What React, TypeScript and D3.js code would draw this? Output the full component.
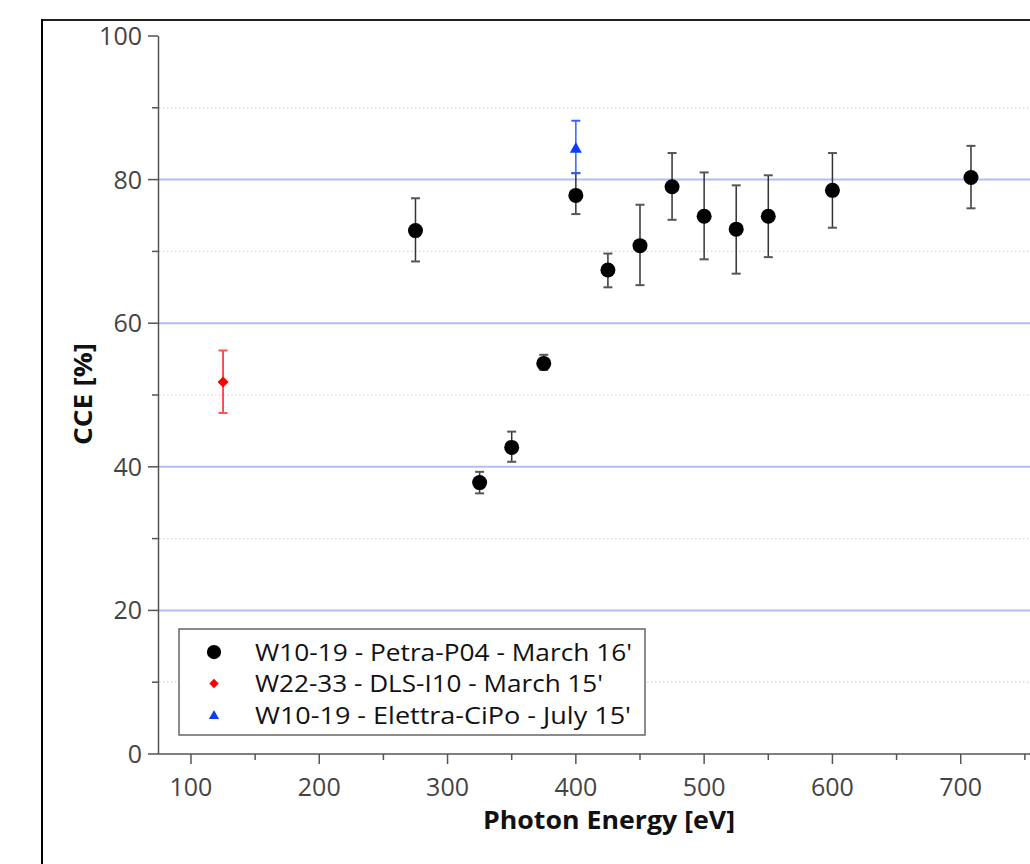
import React from "react";
import * as d3 from "d3";

// ---- data ----
const petraEnergy = [275, 325, 350, 375, 400, 425, 450, 475, 500, 525, 550, 600, 708];
const petraCCE = [72.9, 37.8, 42.7, 54.4, 77.8, 67.4, 70.8, 79.0, 74.9, 73.1, 74.9, 78.5, 80.3];
const petraErrLow = [68.6, 36.3, 40.7, 53.5, 75.2, 65.0, 65.3, 74.4, 68.9, 66.9, 69.2, 73.3, 76.0];
const petraErrHigh = [77.4, 39.3, 44.9, 55.6, 80.9, 69.7, 76.5, 83.7, 81.0, 79.2, 80.6, 83.7, 84.7];

const dlsEnergy = [125];
const dlsCCE = [51.8];
const dlsErrLow = [47.5];
const dlsErrHigh = [56.2];

const elettraEnergy = [400];
const elettraCCE = [84.4];
const elettraErrLow = [80.9];
const elettraErrHigh = [88.2];

const legendLabels = [
  "W10-19 - Petra-P04 - March 16'",
  "W22-33 - DLS-I10 - March 15'",
  "W10-19 - Elettra-CiPo - July 15'",
];
const legendWidths = [377, 348, 376];
const xTicks = [100, 200, 300, 400, 500, 600, 700];
const xMinorTicks = [150, 250, 350, 450, 550, 650, 750];
const yTicks = [0, 20, 40, 60, 80, 100];
const yMinorTicks = [10, 30, 50, 70, 90];
const majorGrid = [20, 40, 60, 80];

const FONT = "'Open Sans', 'DejaVu Sans', sans-serif";

export default function App() {
  const W = 1030;
  const H = 864;
  const x = d3.scaleLinear().domain([74.3, 754]).range([158, 1030]);
  const y = d3.scaleLinear().domain([0, 100]).range([754, 36]);

  const series = [
    { e: petraEnergy, v: petraCCE, lo: petraErrLow, hi: petraErrHigh, color: "#000", bar: "#333", cap: "#555", shape: "circle" },
    { e: dlsEnergy, v: dlsCCE, lo: dlsErrLow, hi: dlsErrHigh, color: "#ff0000", bar: "#ff1a1a", cap: "#ff5050", shape: "diamond" },
    { e: elettraEnergy, v: elettraCCE, lo: elettraErrLow, hi: elettraErrHigh, color: "#0a3cff", bar: "#3060ff", cap: "#3060ff", shape: "triangle" },
  ];

  const marker = (shape: string, cx: number, cy: number, color: string, key: string, scale = 1) => {
    if (shape === "circle") return <circle key={key} cx={cx} cy={cy} r={7.5 * scale} fill={color} />;
    if (shape === "diamond") {
      const s = 5.5 * scale;
      return <path key={key} d={`M${cx},${cy - s}L${cx + s},${cy}L${cx},${cy + s}L${cx - s},${cy}Z`} fill={color} />;
    }
    const s = 6 * scale;
    return <path key={key} d={`M${cx},${cy - s}L${cx + s},${cy + s * 0.8}L${cx - s},${cy + s * 0.8}Z`} fill={color} />;
  };

  return (
    <svg width={W} height={H} style={{ position: "absolute", left: 0, top: 0, background: "#fff" }}>
      {/* outer frame */}
      <line x1={42} y1={20} x2={W} y2={20} stroke="#222" strokeWidth={2} />
      <line x1={42} y1={19} x2={42} y2={H} stroke="#000" strokeWidth={2} />

      {/* minor grid */}
      {yMinorTicks.map((t) => (
        <line key={"mg" + t} x1={159} x2={W} y1={y(t)} y2={y(t)} stroke="#d4d4d4" strokeWidth={1.2} strokeDasharray="1.5,2.5" />
      ))}
      {/* major grid */}
      {majorGrid.map((t) => (
        <line key={"g" + t} x1={159} x2={W} y1={y(t)} y2={y(t)} stroke="#b4bcf8" strokeWidth={2} />
      ))}

      {/* y axis */}
      <line x1={158.5} x2={158.5} y1={y(100)} y2={y(0)} stroke="#555" strokeWidth={1.5} />
      {yTicks.map((t) => (
        <g key={"yt" + t}>
          <line x1={148} x2={158} y1={y(t)} y2={y(t)} stroke="#555" strokeWidth={1.5} />
          <text x={142} y={y(t)} dy="0.36em" textAnchor="end" fontSize={25} fill="#444" fontFamily={FONT}>{t}</text>
        </g>
      ))}
      {yMinorTicks.map((t) => (
        <line key={"ymt" + t} x1={152} x2={158} y1={y(t)} y2={y(t)} stroke="#555" strokeWidth={1.5} />
      ))}

      {/* x axis */}
      <line x1={158} x2={W} y1={754} y2={754} stroke="#555" strokeWidth={1.5} />
      {xTicks.map((t) => (
        <g key={"xt" + t}>
          <line x1={x(t)} x2={x(t)} y1={754} y2={764} stroke="#555" strokeWidth={1.5} />
          <text x={x(t)} y={796} textAnchor="middle" fontSize={25} fill="#444" fontFamily={FONT}>{t}</text>
        </g>
      ))}
      {xMinorTicks.map((t) => (
        <line key={"xmt" + t} x1={x(t)} x2={x(t)} y1={754} y2={760} stroke="#555" strokeWidth={1.5} />
      ))}

      {/* axis titles */}
      <text x={609} y={829} textAnchor="middle" fontSize={25} fontWeight="bold" fill="#111" fontFamily={FONT}
        textLength={252} lengthAdjust="spacingAndGlyphs">Photon Energy [eV]</text>
      <text transform={`translate(92,394) rotate(-90)`} textAnchor="middle" fontSize={25} fontWeight="bold" fill="#111" fontFamily={FONT}
        textLength={102} lengthAdjust="spacingAndGlyphs">CCE [%]</text>

      {/* error bars and markers */}
      {series.map((s, si) => (
        <g key={"s" + si}>
          {s.e.map((e, i) => (
            <g key={i}>
              <line x1={x(e)} x2={x(e)} y1={y(s.lo[i])} y2={y(s.hi[i])} stroke={s.bar} strokeWidth={1.5} />
              <line x1={x(e) - 4.5} x2={x(e) + 4.5} y1={y(s.lo[i])} y2={y(s.lo[i])} stroke={s.cap} strokeWidth={2} />
              <line x1={x(e) - 4.5} x2={x(e) + 4.5} y1={y(s.hi[i])} y2={y(s.hi[i])} stroke={s.cap} strokeWidth={2} />
            </g>
          ))}
          {s.e.map((e, i) => marker(s.shape, x(e), y(s.v[i]), s.color, "m" + si + "-" + i))}
        </g>
      ))}

      {/* legend */}
      <rect x={179} y={629} width={466} height={106} fill="#fff" stroke="#666" strokeWidth={1.5} />
      {legendLabels.map((l, i) => {
        const cy = 652 + i * 31.5;
        return (
          <g key={"lg" + i}>
            {marker(series[i].shape, 214, cy, series[i].color, "lm" + i, i === 0 ? 0.95 : 0.85)}
            <text x={255} y={cy} dy="0.36em" fontSize={24.5} fill="#111" fontFamily={FONT}
              textLength={legendWidths[i]} lengthAdjust="spacingAndGlyphs">{l}</text>
          </g>
        );
      })}
    </svg>
  );
}
